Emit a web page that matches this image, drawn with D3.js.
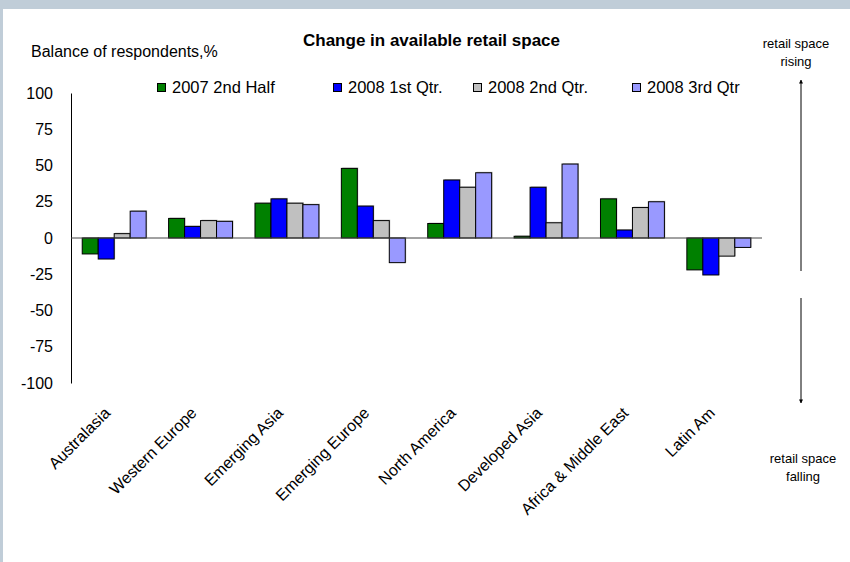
<!DOCTYPE html>
<html>
<head>
<meta charset="utf-8">
<script src="https://cdn.jsdelivr.net/npm/d3@7"></script>
<style>
  body { margin: 0; background: #fff; }
  svg { display: block; font-family: Arial, 'Liberation Sans', sans-serif; }
</style>
</head>
<body>
<div id="chart"></div>
<script>
(function(d3) {
    'use strict'

    // categories and series values (balance of respondents, %)
    var regions = ['Australasia', 'Western Europe', 'Emerging Asia', 'Emerging Europe',
        'North America', 'Developed Asia', 'Africa & Middle East', 'Latin Am'];
    var seriesNames = ['2007 2nd Half', '2008 1st Qtr.', '2008 2nd Qtr.', '2008 3rd Qtr'];
    var h2007 = [-11, 13.5, 24, 48, 10, 1.2, 27, -22];
    var q1_2008 = [-14.5, 8, 27, 22, 40, 35, 5.5, -25.5];
    var q2_2008 = [3, 12, 24, 12, 35, 10.5, 21, -12.5];
    var q3_2008 = [18.5, 11.5, 23, -17, 45, 51, 25, -6.5];
    var yTicks = [100, 75, 50, 25, 0, -25, -50, -75, -100];

    var seriesValues = [h2007, q1_2008, q2_2008, q3_2008];
    var colors = ['#008000', '#0000ff', '#c0c0c0', '#9999ff'];
    var legendX = [157, 333, 473, 632];

    var width = 850;
    var height = 562;

    var svg = d3.select('#chart')
        .append('svg')
        .attr('width', width)
        .attr('height', height);

    // frame bands
    svg.append('rect').attr('x', 0).attr('y', 0).attr('width', width).attr('height', 9).attr('fill', '#c0cdd8');
    svg.append('rect').attr('x', 0).attr('y', 0).attr('width', 3).attr('height', height).attr('fill', '#c0cdd8');

    var x = d3.scaleBand()
        .domain(regions)
        .range([71, 762])
        .paddingInner(0.26)
        .paddingOuter(0.13);

    var xInner = d3.scaleBand()
        .domain(d3.range(seriesNames.length))
        .range([0, x.bandwidth()]);

    var y = d3.scaleLinear()
        .domain([-100, 100])
        .range([383, 93]);

    // y axis (plain hyphen minus like the original)
    var yAxis = d3.axisLeft(y)
        .tickValues(yTicks)
        .tickSize(0)
        .tickPadding(18)
        .tickFormat(function(d) { return String(d); });
    var gy = svg.append('g')
        .attr('transform', 'translate(71,0)')
        .call(yAxis);
    gy.select('.domain').attr('stroke', '#000');
    gy.selectAll('text')
        .attr('font-size', 16)
        .attr('fill', '#000')
        .attr('font-family', "Arial, 'Liberation Sans', sans-serif");

    // bars
    var rows = regions.map(function(r, i) {
        return { region: r, values: seriesValues.map(function(s) { return s[i]; }) };
    });

    var groups = svg.selectAll('g.grp')
        .data(rows)
        .enter()
        .append('g')
        .attr('class', 'grp')
        .attr('transform', function(d) { return 'translate(' + x(d.region) + ',0)'; });

    // soft shadow
    groups.selectAll('rect.sh')
        .data(function(d) { return d.values; })
        .enter()
        .append('rect')
        .attr('class', 'sh')
        .attr('x', function(d, i) { return xInner(i) + 1; })
        .attr('y', function(d) { return Math.min(y(d), y(0)) - 1; })
        .attr('width', xInner.bandwidth())
        .attr('height', function(d) { return Math.abs(y(d) - y(0)) + 1; })
        .attr('fill', '#888')
        .attr('opacity', 0.45);

    groups.selectAll('rect.bar')
        .data(function(d) { return d.values; })
        .enter()
        .append('rect')
        .attr('class', 'bar')
        .attr('x', function(d, i) { return xInner(i); })
        .attr('y', function(d) { return Math.min(y(d), y(0)); })
        .attr('width', xInner.bandwidth())
        .attr('height', function(d) { return Math.abs(y(d) - y(0)); })
        .attr('fill', function(d, i) { return colors[i]; })
        .attr('stroke', '#000')
        .attr('stroke-width', 1);

    // zero line
    svg.append('line')
        .attr('x1', 71).attr('x2', 762)
        .attr('y1', y(0)).attr('y2', y(0))
        .attr('stroke', '#444')
        .attr('stroke-width', 1);

    // category labels
    svg.selectAll('text.cat')
        .data(regions)
        .enter()
        .append('text')
        .attr('class', 'cat')
        .attr('transform', function(d) {
            return 'translate(' + (x(d) + x.bandwidth() / 2 - 3) + ',414) rotate(-45)';
        })
        .attr('text-anchor', 'end')
        .attr('font-size', 16)
        .text(function(d) { return d; });

    // titles
    svg.append('text')
        .attr('x', 303).attr('y', 46)
        .attr('font-size', 17)
        .attr('font-weight', 'bold')
        .text('Change in available retail space');

    svg.append('text')
        .attr('x', 31).attr('y', 56.5)
        .attr('font-size', 16)
        .text('Balance of respondents,%');

    // legend
    var legend = svg.selectAll('g.leg')
        .data(seriesNames)
        .enter()
        .append('g')
        .attr('class', 'leg')
        .attr('transform', function(d, i) { return 'translate(' + legendX[i] + ',0)'; });

    legend.append('rect')
        .attr('x', 0.5).attr('y', 83.5)
        .attr('width', 8).attr('height', 8)
        .attr('fill', function(d, i) { return colors[i]; })
        .attr('stroke', '#000')
        .attr('stroke-width', 1);

    legend.append('text')
        .attr('x', 15).attr('y', 92.5)
        .attr('font-size', 16.5)
        .text(function(d) { return d; });

    // rising / falling annotations
    svg.append('defs').append('marker')
        .attr('id', 'ah')
        .attr('viewBox', '0 0 10 10')
        .attr('refX', 9).attr('refY', 5)
        .attr('markerWidth', 4).attr('markerHeight', 5)
        .attr('orient', 'auto')
        .append('path')
        .attr('d', 'M0,0 L10,5 L0,10 z')
        .attr('fill', '#000');

    svg.append('line')
        .attr('x1', 801).attr('x2', 801)
        .attr('y1', 271).attr('y2', 80)
        .attr('stroke', '#000').attr('stroke-width', 1)
        .attr('marker-end', 'url(#ah)');

    svg.append('line')
        .attr('x1', 801).attr('x2', 801)
        .attr('y1', 298).attr('y2', 403)
        .attr('stroke', '#000').attr('stroke-width', 1)
        .attr('marker-end', 'url(#ah)');

    var notes = [
        { lines: ['retail space', 'rising'], x: 796, y: 48 },
        { lines: ['retail space', 'falling'], x: 803, y: 463 }
    ];
    notes.forEach(function(n) {
        var t = svg.append('text')
            .attr('text-anchor', 'middle')
            .attr('font-size', 13);
        n.lines.forEach(function(l, i) {
            t.append('tspan').attr('x', n.x).attr('y', n.y + i * 18).text(l);
        });
    });

})(window.d3);
</script>
</body>
</html>
